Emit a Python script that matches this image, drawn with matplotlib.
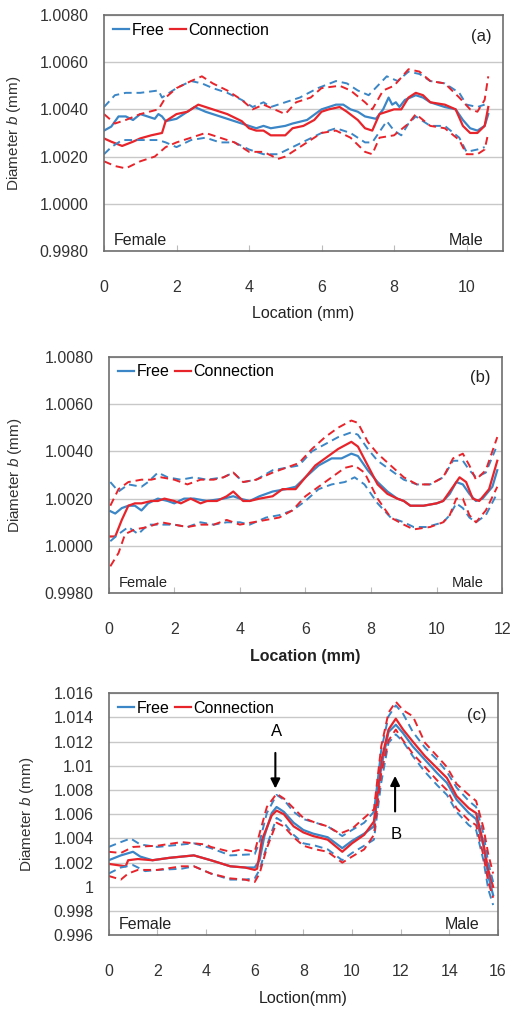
import matplotlib
matplotlib.use("Agg")
import matplotlib.pyplot as plt

plt.rcParams['font.family'] = ['Liberation Sans', 'DejaVu Sans']
plt.rcParams['mathtext.fontset'] = 'custom'
plt.rcParams['mathtext.it'] = 'Liberation Sans:italic'
plt.rcParams['mathtext.rm'] = 'Liberation Sans'

BLUE = '#3b86c6'
RED = '#e8242b'

# ---------------- panel (a) ----------------
a_free_x = [0, 0.2, 0.4, 0.6, 0.8, 1.0, 1.2, 1.4, 1.5, 1.6, 1.7, 2.0, 2.2, 2.5, 2.8, 3.0, 3.4, 3.8, 4.0, 4.2,
            4.4, 4.6, 5.0, 5.2, 5.6, 6.0, 6.2, 6.4, 6.6, 6.8, 7.0, 7.2, 7.5, 7.7, 7.85, 7.95, 8.05, 8.15, 8.3,
            8.6, 8.8, 9.0, 9.4, 9.7, 9.9, 10.1, 10.3, 10.5, 10.6]
a_free = [1.0031, 1.00327, 1.0037, 1.0037, 1.00355, 1.0038, 1.0037, 1.0036, 1.0038, 1.0037, 1.0035, 1.0036,
          1.0038, 1.0041, 1.0039, 1.0038, 1.0036, 1.0034, 1.0033, 1.0032, 1.0033, 1.0032, 1.0033, 1.0034,
          1.00355, 1.0040, 1.0041, 1.0042, 1.0042, 1.0040, 1.0039, 1.0037, 1.0036, 1.0040, 1.0045, 1.0042,
          1.0043, 1.0041, 1.0044, 1.0046, 1.0045, 1.0043, 1.0041, 1.0040, 1.00355, 1.0032, 1.0031, 1.0033,
          1.0038]
a_conn_x = [0, 0.2, 0.5, 0.8, 1.0, 1.3, 1.6, 1.7, 2.0, 2.3, 2.6, 3.0, 3.4, 3.8, 4.0, 4.2, 4.4, 4.6, 4.8, 5.0,
            5.2, 5.5, 5.8, 6.0, 6.2, 6.5, 6.7, 7.0, 7.2, 7.4, 7.6, 8.0, 8.2, 8.4, 8.6, 8.8, 9.0, 9.4, 9.7, 9.9,
            10.1, 10.3, 10.5, 10.6]
a_conn = [1.00277, 1.00263, 1.00245, 1.00263, 1.00277, 1.0029, 1.0030, 1.0035, 1.0038, 1.0039, 1.0042, 1.0040,
          1.0038, 1.0035, 1.0032, 1.0031, 1.0031, 1.0029, 1.0029, 1.0029, 1.0032, 1.0033, 1.00355, 1.0039,
          1.0040, 1.0041, 1.0039, 1.00355, 1.0032, 1.0031, 1.0038, 1.0040, 1.0040, 1.0045, 1.0047, 1.0046,
          1.0043, 1.0042, 1.0040, 1.0033, 1.0030, 1.0030, 1.0033, 1.0041]
a_free_up_x = [0, 0.3, 0.6, 1.0, 1.5, 1.6, 2.0, 2.4, 2.7, 3.0, 3.4, 3.8, 4.1, 4.4, 4.6, 5.0, 5.4, 5.9, 6.4, 6.7,
               7.0, 7.3, 7.8, 8.1, 8.4, 8.7, 9.0, 9.4, 9.8, 10.0, 10.3, 10.5]
a_free_up = [1.0041, 1.0046, 1.0047, 1.0047, 1.0048, 1.0045, 1.0049, 1.0052, 1.0051, 1.0049, 1.0047, 1.0044,
             1.0041, 1.0043, 1.0041, 1.0043, 1.0045, 1.0049, 1.0052, 1.0051, 1.0048, 1.0046, 1.0054, 1.0052,
             1.0056, 1.0055, 1.0052, 1.0051, 1.0047, 1.0042, 1.0041, 1.0042]
a_conn_up_x = [0, 0.3, 0.6, 1.0, 1.5, 1.7, 2.0, 2.4, 2.7, 3.0, 3.4, 3.8, 4.1, 4.4, 4.7, 5.0, 5.3, 5.7, 6.0, 6.5,
               6.8, 7.2, 7.4, 7.7, 8.0, 8.4, 8.7, 9.0, 9.4, 9.8, 10.1, 10.3, 10.5, 10.6]
a_conn_up = [1.0038, 1.0034, 1.00355, 1.0038, 1.0040, 1.0045, 1.0049, 1.0052, 1.0054, 1.0051, 1.0048, 1.0044,
             1.0040, 1.0042, 1.0040, 1.0038, 1.0043, 1.0045, 1.0049, 1.0050, 1.0048, 1.0043, 1.0040, 1.0048,
             1.0050, 1.0057, 1.0056, 1.0052, 1.0051, 1.0045, 1.0040, 1.0039, 1.0044, 1.0054]
a_free_lo_x = [0, 0.2, 0.5, 1.0, 1.5, 1.7, 2.0, 2.4, 2.8, 3.2, 3.6, 4.0, 4.4, 4.8, 5.2, 5.6, 6.0, 6.4, 6.8, 7.2,
               7.4, 7.8, 8.0, 8.2, 8.4, 8.6, 9.0, 9.4, 9.8, 10.0, 10.3, 10.5]
a_free_lo = [1.0021, 1.0024, 1.0027, 1.0027, 1.0027, 1.0026, 1.0024, 1.0027, 1.0028, 1.0026, 1.0026, 1.0023,
             1.0021, 1.0021, 1.0024, 1.0027, 1.0030, 1.0032, 1.0030, 1.0026, 1.0026, 1.0035, 1.0031, 1.0029,
             1.0034, 1.0037, 1.0033, 1.0033, 1.0028, 1.0022, 1.0023, 1.0024]
a_conn_lo_x = [0, 0.3, 0.6, 1.0, 1.4, 1.7, 2.0, 2.4, 2.8, 3.2, 3.6, 4.0, 4.4, 4.8, 5.0, 5.4, 6.0, 6.4, 6.8, 7.2,
               7.4, 7.6, 8.0, 8.4, 8.6, 9.0, 9.4, 9.8, 10.0, 10.3, 10.5, 10.6]
a_conn_lo = [1.0018, 1.0016, 1.0015, 1.0018, 1.0020, 1.0024, 1.0026, 1.0028, 1.0030, 1.0028, 1.0026, 1.0022,
             1.0022, 1.0019, 1.0020, 1.0024, 1.0030, 1.0031, 1.0028, 1.0022, 1.0021, 1.0028, 1.0029, 1.0034,
             1.0038, 1.0033, 1.0032, 1.0027, 1.0021, 1.0021, 1.0023, 1.0030]

# ---------------- panel (b) ----------------
b_free_x = [0.05, 0.2, 0.4, 0.6, 0.8, 1.0, 1.2, 1.5, 1.8, 2.0, 2.3, 2.6, 3.0, 3.5, 3.8, 4.0, 4.3, 4.6, 5.0, 5.4,
            5.7, 6.0, 6.4, 6.8, 7.1, 7.4, 7.6, 7.9, 8.2, 8.5, 8.8, 9.0, 9.2, 9.6, 10.0, 10.2, 10.4, 10.6, 10.8,
            11.0, 11.2, 11.4, 11.7, 11.85]
b_free = [1.00147, 1.00137, 1.0016, 1.0017, 1.0017, 1.0015, 1.0018, 1.0020, 1.0019, 1.0018, 1.0020, 1.0020,
          1.0019, 1.0020, 1.0021, 1.0020, 1.0019, 1.0021, 1.0023, 1.0024, 1.0025, 1.0029, 1.0034, 1.0037, 1.0037,
          1.0039, 1.0038, 1.0032, 1.0027, 1.0023, 1.0020, 1.0019, 1.0017, 1.0017, 1.0018, 1.0019, 1.0022, 1.0027,
          1.0026, 1.0022, 1.0019, 1.0020, 1.0025, 1.0032]
b_conn_x = [0.05, 0.2, 0.4, 0.6, 0.8, 1.0, 1.3, 1.5, 1.7, 2.0, 2.2, 2.5, 2.8, 3.0, 3.3, 3.6, 3.8, 4.1, 4.3, 4.6,
            5.0, 5.3, 5.7, 6.0, 6.3, 6.7, 7.0, 7.4, 7.6, 7.9, 8.2, 8.5, 8.8, 9.0, 9.2, 9.6, 10.0, 10.2, 10.4,
            10.7, 10.9, 11.1, 11.3, 11.6, 11.85]
b_conn = [1.0004, 1.0004, 1.0011, 1.0017, 1.0018, 1.0018, 1.0019, 1.0019, 1.0020, 1.0019, 1.0018, 1.0020,
          1.0018, 1.0019, 1.0019, 1.0021, 1.0023, 1.0019, 1.0019, 1.0020, 1.0021, 1.0024, 1.0024, 1.0029, 1.0034,
          1.0038, 1.0041, 1.0044, 1.0042, 1.0034, 1.0026, 1.0022, 1.0020, 1.0019, 1.0017, 1.0017, 1.0018, 1.0019,
          1.0023, 1.0029, 1.0027, 1.0020, 1.0019, 1.0024, 1.0036]
b_free_up_x = [0.05, 0.3, 0.6, 1.0, 1.2, 1.5, 1.8, 2.2, 2.6, 3.0, 3.5, 3.8, 4.1, 4.5, 5.0, 5.4, 5.8, 6.2, 6.6,
               7.0, 7.4, 7.6, 7.9, 8.2, 8.6, 9.0, 9.4, 9.8, 10.2, 10.5, 10.8, 11.0, 11.2, 11.5, 11.8]
b_free_up = [1.0027, 1.0023, 1.0026, 1.0025, 1.0027, 1.0031, 1.0029, 1.0028, 1.0029, 1.0028, 1.0029, 1.0031,
             1.0027, 1.0028, 1.0032, 1.0033, 1.0034, 1.0040, 1.0043, 1.0046, 1.0048, 1.0047, 1.0041, 1.0036,
             1.0032, 1.0028, 1.0026, 1.0026, 1.0029, 1.0036, 1.0036, 1.0032, 1.0029, 1.0031, 1.0041]
b_conn_up_x = [0.05, 0.3, 0.6, 1.0, 1.3, 1.6, 2.0, 2.4, 2.8, 3.2, 3.5, 3.8, 4.1, 4.5, 5.0, 5.4, 5.8, 6.2, 6.6,
               7.0, 7.4, 7.6, 7.9, 8.2, 8.6, 9.0, 9.4, 9.8, 10.2, 10.5, 10.8, 11.0, 11.2, 11.5, 11.85]
b_conn_up = [1.0017, 1.0024, 1.0027, 1.0028, 1.0028, 1.0029, 1.0028, 1.0026, 1.0028, 1.0028, 1.0029, 1.0031,
             1.0027, 1.0028, 1.0031, 1.0033, 1.0035, 1.0041, 1.0046, 1.0050, 1.0053, 1.0052, 1.0044, 1.0039,
             1.0034, 1.0029, 1.0026, 1.0026, 1.0029, 1.0037, 1.0039, 1.0034, 1.0028, 1.0032, 1.0046]
b_free_lo_x = [0.05, 0.3, 0.6, 0.9, 1.2, 1.6, 2.0, 2.4, 2.8, 3.2, 3.6, 4.0, 4.3, 4.8, 5.2, 5.6, 6.0, 6.4, 6.8,
               7.2, 7.5, 7.8, 8.2, 8.6, 9.0, 9.3, 9.7, 10.2, 10.4, 10.6, 10.8, 11.0, 11.2, 11.5, 11.8]
b_free_lo = [1.0002, 1.0005, 1.0008, 1.0005, 1.0009, 1.0009, 1.0009, 1.0008, 1.0010, 1.0009, 1.0010, 1.0010,
             1.0009, 1.0012, 1.0013, 1.0015, 1.0019, 1.0024, 1.0026, 1.0027, 1.0029, 1.0026, 1.0018, 1.0012,
             1.0010, 1.0008, 1.0008, 1.0010, 1.0013, 1.0018, 1.0016, 1.0012, 1.0010, 1.0013, 1.0021]
b_conn_lo_x = [0.05, 0.3, 0.5, 0.8, 1.2, 1.6, 2.0, 2.4, 2.8, 3.2, 3.6, 4.0, 4.4, 4.8, 5.2, 5.6, 6.0, 6.4, 6.8,
               7.2, 7.5, 7.8, 8.2, 8.6, 9.0, 9.3, 9.8, 10.2, 10.4, 10.6, 10.8, 11.0, 11.2, 11.5, 11.85]
b_conn_lo = [0.99914, 0.9997, 1.0005, 1.0007, 1.0008, 1.0010, 1.0009, 1.0008, 1.0009, 1.0009, 1.0011, 1.0009,
             1.0010, 1.0011, 1.0012, 1.0015, 1.0021, 1.0025, 1.0029, 1.0033, 1.0034, 1.0031, 1.0020, 1.0012,
             1.0009, 1.0007, 1.0008, 1.0010, 1.0013, 1.0020, 1.0020, 1.0013, 1.0010, 1.0015, 1.0025]

# ---------------- panel (c) ----------------
c_free_x = [0, 0.5, 1.0, 1.3, 1.8, 2.5, 3.0, 3.5, 4.2, 5.0, 5.6, 6.0, 6.2, 6.4, 6.7, 6.9, 7.2, 7.6, 8.0, 8.4,
            9.0, 9.6, 10.0, 10.5, 10.9, 11.2, 11.5, 11.8, 12.1, 12.5, 13.0, 13.5, 13.9, 14.3, 14.8, 15.1, 15.4,
            15.6, 15.8]
c_free = [1.0022, 1.0026, 1.0029, 1.0025, 1.0022, 1.0024, 1.0025, 1.0026, 1.0022, 1.0017, 1.0016, 1.0016,
          1.0022, 1.0042, 1.0061, 1.0066, 1.0062, 1.0053, 1.0047, 1.0044, 1.0041, 1.0032, 1.0038, 1.0044, 1.0050,
          1.0099, 1.0128, 1.0134, 1.0127, 1.0116, 1.0105, 1.0094, 1.0086, 1.0072, 1.0061, 1.0056, 1.0034, 1.0009,
          0.9993]
c_conn_x = [0, 0.7, 0.8, 1.2, 1.8, 2.5, 3.0, 3.5, 4.2, 5.0, 5.6, 6.0, 6.1, 6.3, 6.7, 6.9, 7.2, 7.6, 8.0, 8.4,
            9.0, 9.6, 10.0, 10.5, 10.9, 11.2, 11.5, 11.8, 12.1, 12.5, 13.0, 13.5, 13.9, 14.3, 14.8, 15.1, 15.4,
            15.6, 15.8]
c_conn = [1.0019, 1.0017, 1.0022, 1.0023, 1.0022, 1.0024, 1.0025, 1.0026, 1.0022, 1.0017, 1.0016, 1.0014,
          1.0015, 1.0039, 1.0059, 1.0063, 1.0060, 1.0050, 1.0045, 1.0042, 1.0039, 1.0029, 1.0036, 1.0043, 1.0054,
          1.0104, 1.0130, 1.0139, 1.0130, 1.0120, 1.0108, 1.0098, 1.0090, 1.0075, 1.0065, 1.0061, 1.0036, 1.0014,
          1.0000]
c_free_up_x = [0, 0.5, 0.9, 1.3, 2.0, 3.0, 3.5, 4.2, 5.0, 6.0, 6.2, 6.5, 6.9, 7.2, 7.6, 8.0, 8.5, 9.0, 9.6,
               10.0, 10.5, 10.9, 11.2, 11.5, 11.8, 12.1, 12.5, 13.0, 13.5, 13.9, 14.3, 14.8, 15.1, 15.4, 15.6, 15.8]
c_free_up = [1.0033, 1.0037, 1.0040, 1.0035, 1.0033, 1.0035, 1.0036, 1.0032, 1.0026, 1.0027, 1.0037, 1.0061,
             1.0076, 1.0072, 1.0062, 1.0056, 1.0053, 1.0050, 1.0042, 1.0047, 1.0053, 1.0062, 1.0113, 1.0141,
             1.0150, 1.0143, 1.0128, 1.0115, 1.0105, 1.0095, 1.0082, 1.0071, 1.0066, 1.0044, 1.0020, 1.0004]
c_conn_up_x = [0, 0.5, 1.0, 2.0, 3.0, 4.0, 4.2, 5.0, 5.5, 6.0, 6.2, 6.5, 6.9, 7.2, 7.6, 8.0, 8.5, 9.0, 9.5,
               10.0, 10.5, 10.9, 11.2, 11.5, 11.8, 12.1, 12.5, 13.0, 13.5, 13.9, 14.3, 14.8, 15.1, 15.4, 15.6, 15.8]
c_conn_up = [1.0029, 1.0028, 1.0033, 1.0034, 1.0037, 1.0035, 1.0033, 1.0029, 1.0031, 1.0029, 1.0044, 1.0066,
             1.0077, 1.0073, 1.0065, 1.0057, 1.0053, 1.0050, 1.0044, 1.0048, 1.0057, 1.0064, 1.0116, 1.0144,
             1.0153, 1.0146, 1.0141, 1.0119, 1.0108, 1.0099, 1.0085, 1.0076, 1.0071, 1.0049, 1.0027, 1.0011]
c_free_lo_x = [0, 0.5, 1.0, 1.5, 2.0, 3.0, 3.5, 4.2, 5.0, 5.6, 6.0, 6.2, 6.5, 6.9, 7.2, 7.6, 8.0, 8.5, 9.0, 9.6,
               10.0, 10.5, 10.9, 11.2, 11.5, 11.8, 12.1, 12.5, 13.0, 13.5, 13.9, 14.3, 14.8, 15.1, 15.4, 15.6, 15.8]
c_free_lo = [1.0011, 1.0016, 1.0018, 1.0013, 1.0014, 1.0015, 1.0017, 1.0011, 1.0006, 1.0006, 1.0007, 1.0014,
             1.0034, 1.0057, 1.0053, 1.0043, 1.0036, 1.0034, 1.0031, 1.0022, 1.0028, 1.0034, 1.0039, 1.0086,
             1.0119, 1.0126, 1.0120, 1.0108, 1.0095, 1.0084, 1.0076, 1.0062, 1.0051, 1.0047, 1.0022, 0.9998, 0.9985]
c_conn_lo_x = [0, 0.5, 0.8, 1.2, 2.0, 3.0, 3.5, 4.2, 5.0, 5.6, 6.0, 6.2, 6.5, 6.9, 7.2, 7.6, 8.0, 8.5, 9.0, 9.6,
               10.0, 10.5, 10.9, 11.2, 11.5, 11.8, 12.1, 12.5, 13.0, 13.5, 13.9, 14.3, 14.8, 15.1, 15.4, 15.6, 15.8]
c_conn_lo = [1.0009, 1.0006, 1.0011, 1.0014, 1.0014, 1.0017, 1.0017, 1.0011, 1.0007, 1.0006, 1.0004, 1.0011,
             1.0032, 1.0053, 1.0050, 1.0041, 1.0034, 1.0031, 1.0029, 1.0020, 1.0025, 1.0031, 1.0043, 1.0094,
             1.0121, 1.0130, 1.0121, 1.0110, 1.0099, 1.0088, 1.0080, 1.0065, 1.0055, 1.0051, 1.0026, 1.0004, 0.9991]

ab_yticks = [0.9980, 1.0000, 1.0020, 1.0040, 1.0060, 1.0080]
ab_yticklabels = ['0.9980', '1.0000', '1.0020', '1.0040', '1.0060', '1.0080']
c_yticks = [0.996, 0.998, 1.000, 1.002, 1.004, 1.006, 1.008, 1.010, 1.012, 1.014, 1.016]
c_yticklabels = ['0.996', '0.998', '1', '1.002', '1.004', '1.006', '1.008', '1.01', '1.012', '1.014', '1.016']


def style_axis(ax, xmax, xstep, yticks, ylabels, tag, ylab_x, xlab, xlab_y, bold_x=False, fm_size=11.5):
    ax.set_xlim(0, xmax)
    ax.set_ylim(yticks[0], yticks[-1])
    ax.set_xticks(range(0, xmax + 1, xstep))
    ax.set_yticks(yticks)
    ax.set_yticklabels(ylabels)
    ax.yaxis.grid(True, color='#c8c8c8', linewidth=1.0)
    ax.set_axisbelow(True)
    for sp in ax.spines.values():
        sp.set_color('#6e6e6e')
        sp.set_linewidth(1.2)
    ax.tick_params(axis='y', length=0, pad=11, labelsize=11.5, labelcolor='#333333')
    ax.tick_params(axis='x', direction='in', length=4, color='#bbbbbb', pad=21, labelsize=11.5,
                   labelcolor='#333333')
    ax.set_ylabel('Diameter $\\it{b}$ (mm)', fontsize=11, color='#333333')
    ax.yaxis.set_label_coords(ylab_x, 0.5)
    ax.set_xlabel(xlab, fontsize=11.5, color='#222222', fontweight='bold' if bold_x else 'normal')
    ax.xaxis.set_label_coords(0.5, xlab_y)
    ax.xaxis.label.set_verticalalignment('center')
    ax.text(0.945, 0.91, tag, transform=ax.transAxes, ha='center', va='center', fontsize=12, color='#222222')
    ax.text(0.025, 0.045, 'Female', transform=ax.transAxes, ha='left', va='center', fontsize=fm_size,
            color='#222222')
    ax.text(0.952, 0.045, 'Male', transform=ax.transAxes, ha='right', va='center', fontsize=fm_size,
            color='#222222')
    ax.legend(loc='upper left', bbox_to_anchor=(-0.005, 1.015), ncol=2, frameon=False, fontsize=11.5,
              handlelength=1.0, handletextpad=0.15, columnspacing=0.35, borderaxespad=0.3)


def draw(ax, series):
    fx, f, cx, c, fux, fu, cux, cu, flx, fl, clx, cl = series
    ax.plot(fx, f, color=BLUE, lw=1.6, label='Free')
    ax.plot(cx, c, color=RED, lw=1.6, label='Connection')
    ax.plot(fux, fu, color=BLUE, lw=1.4, ls=(0, (4, 2.5)))
    ax.plot(flx, fl, color=BLUE, lw=1.4, ls=(0, (4, 2.5)))
    ax.plot(cux, cu, color=RED, lw=1.4, ls=(0, (4, 2.5)))
    ax.plot(clx, cl, color=RED, lw=1.4, ls=(0, (4, 2.5)))


fig = plt.figure(figsize=(5.24, 10.10), dpi=100)
ax_a = fig.add_axes([0.1985, 0.7515, 0.761, 0.2337])
ax_b = fig.add_axes([0.2074, 0.4126, 0.751, 0.2343])
ax_c = fig.add_axes([0.2074, 0.074, 0.743, 0.2396])

draw(ax_a, [a_free_x, a_free, a_conn_x, a_conn, a_free_up_x, a_free_up, a_conn_up_x, a_conn_up,
            a_free_lo_x, a_free_lo, a_conn_lo_x, a_conn_lo])
draw(ax_b, [b_free_x, b_free, b_conn_x, b_conn, b_free_up_x, b_free_up, b_conn_up_x, b_conn_up,
            b_free_lo_x, b_free_lo, b_conn_lo_x, b_conn_lo])
draw(ax_c, [c_free_x, c_free, c_conn_x, c_conn, c_free_up_x, c_free_up, c_conn_up_x, c_conn_up,
            c_free_lo_x, c_free_lo, c_conn_lo_x, c_conn_lo])

style_axis(ax_a, 11, 2, ab_yticks, ab_yticklabels, '(a)', -0.203, 'Location (mm)', -0.263)
style_axis(ax_b, 12, 2, ab_yticks, ab_yticklabels, '(b)', -0.215, 'Location (mm)', -0.269, bold_x=True,
           fm_size=10.5)
style_axis(ax_c, 16, 2, c_yticks, c_yticklabels, '(c)', -0.187, 'Loction(mm)', -0.263)

# arrows A and B in panel (c)
ax_c.annotate('', xy=(6.85, 1.0079), xytext=(6.85, 1.0113),
              arrowprops=dict(arrowstyle='-|>', color='black', lw=1.5, mutation_scale=14))
ax_c.text(6.88, 1.0128, 'A', ha='center', va='center', fontsize=12)
ax_c.annotate('', xy=(11.77, 1.0094), xytext=(11.77, 1.0060),
              arrowprops=dict(arrowstyle='-|>', color='black', lw=1.5, mutation_scale=14))
ax_c.text(11.8, 1.0043, 'B', ha='center', va='center', fontsize=12)

fig.savefig('out.png', dpi=100)
